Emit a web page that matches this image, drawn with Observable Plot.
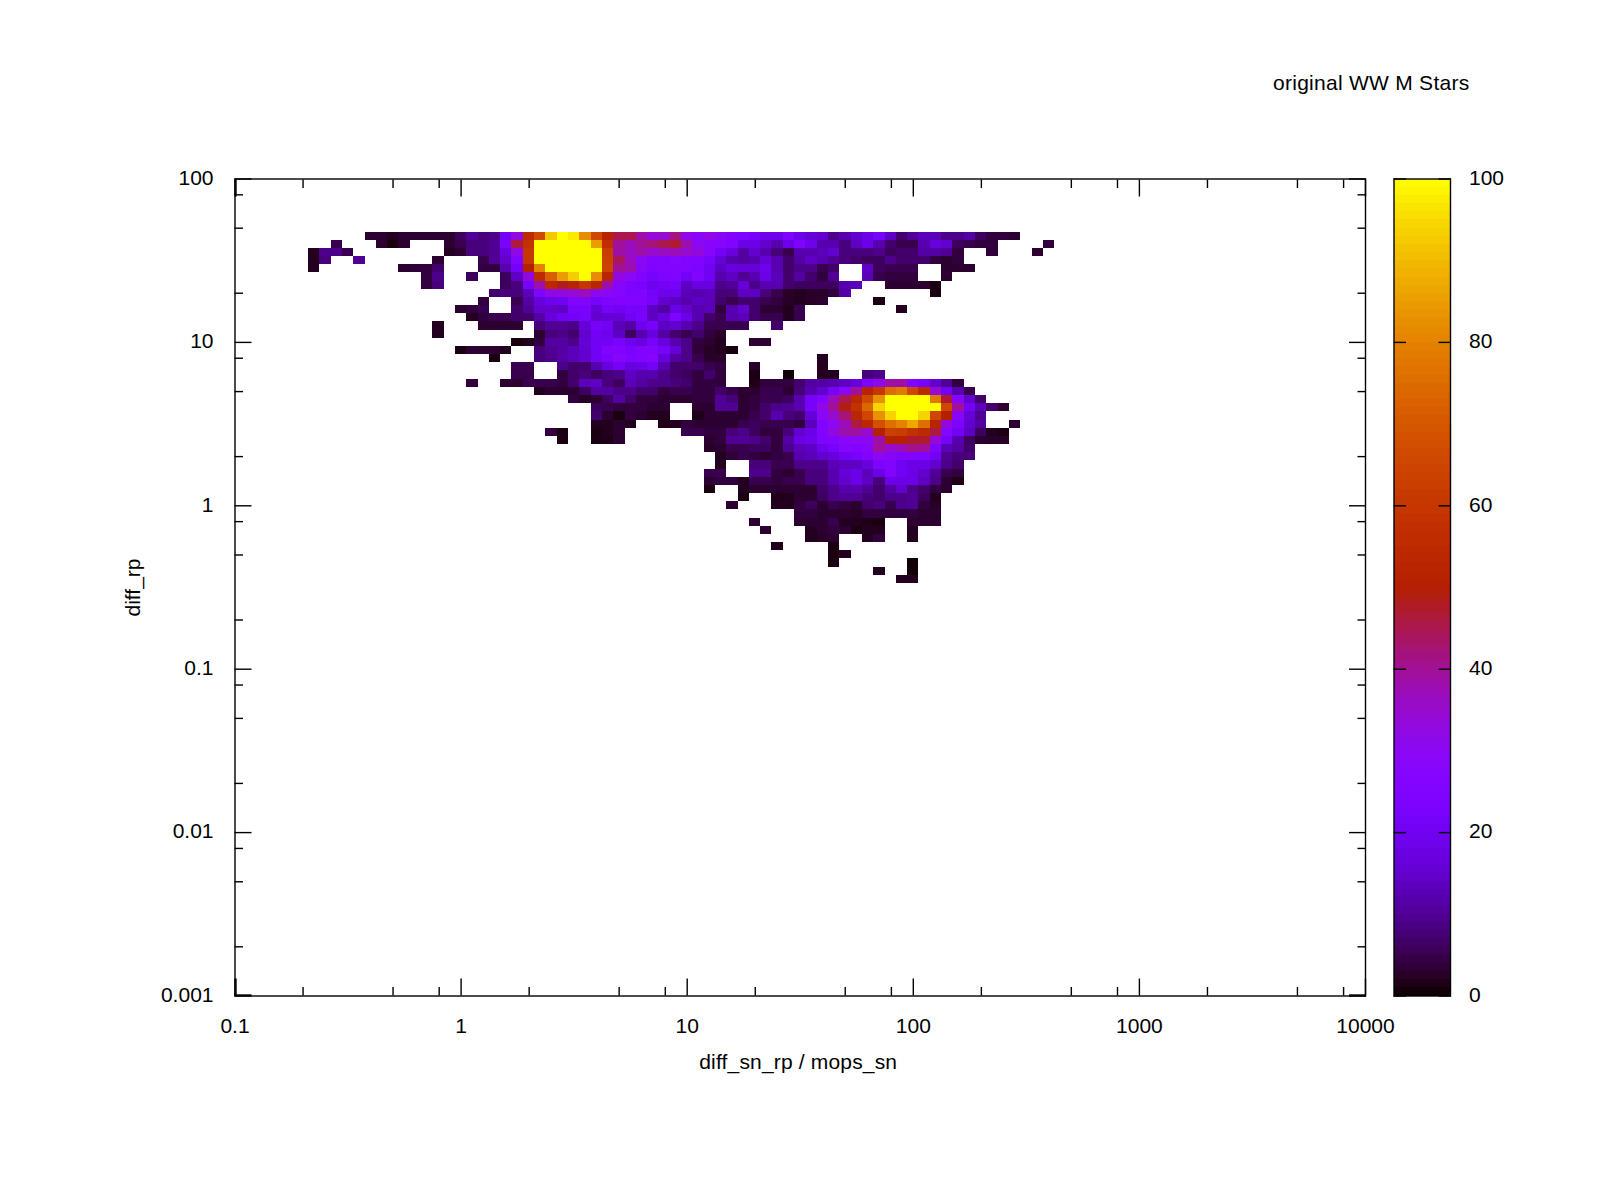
<!DOCTYPE html>
<html>
<head>
<meta charset="utf-8">
<script src="https://cdn.jsdelivr.net/npm/d3@7"></script>
<script src="https://cdn.jsdelivr.net/npm/@observablehq/plot@0.6"></script>
<style>
html,body{margin:0;padding:0;background:#fff;}
#wrap{position:relative;width:1600px;height:1200px;overflow:hidden;}
#wrap svg{position:absolute;left:0;top:0;background:transparent;}
</style>
</head>
<body>
<div id="wrap"></div>
<script>
const titleText = "original WW M Stars";
const xLabel = "diff_sn_rp / mops_sn";
const yLabel = "diff_rp";
const xMajor = [0.1, 1, 10, 100, 1000, 10000];
const xMinor = [0.2,0.5,0.8,2,5,8,20,50,80,200,500,800,2000,5000,8000];
const yMajor = [0.001, 0.01, 0.1, 1, 10, 100];
const yMinor = [0.002,0.005,0.008,0.02,0.05,0.08,0.2,0.5,0.8,2,5,8,20,50,80];
const cbMajor = [0, 20, 40, 60, 80, 100];
const cbLevels = d3.range(0, 100);
const binStep = 0.05;

// each row: one horizontal band of bins, top to bottom; segments are [first column, values...]
const row07 = [[12,3,3,2,3,3,3,3,3,6,10,8,9,21,33,55,66,92,100,97,82,66,52,45,45,39,34,35,42,32,29,32,29,26,24,22,19,19,24,19,16,15,9,12,15,18,22,14,7,10,13,13,9,9,11,6,4,4,3]];
const row08 = [[9,5],[13,3,1,3],[19,3,5,8,8,10,23,46,58,100,100,100,100,100,85,56,40,37,40,42,45,47,38,30,27,27,26,18,18,15,12,18,24,19,12,12,8,14,18,12,7,5,5,12,17,15,6,5,4,4],[72,4]];
const row09 = [[7,2,9,9,5],[19,2,3,8,8,10,17,32,60,100,100,100,100,100,100,62,39,36,38,35,36,37,35,33,28,21,17,11,15,12,8,5,12,12,13,15,8,8,8,9,6,7,7,11,11,10,4],[67,4],[71,3]];
const row10 = [[7,2,8],[11,10],[18,3],[22,5,10,15,26,60,100,100,100,100,100,100,63,44,36,30,26,26,27,26,25,22,16,12,11,12,16,12,7,11,14,12,10,8,7,6,6,9,7,7,7,4,3,4]];
const row11 = [[7,2],[15,3,3.5,4,7],[22,4,4,12,21,50,80,100,100,100,100,100,64,40,38,28,24,26,26,25,24,20,14,17,16,16,19,12,7,9,9,5,7],[56,14,6,5,5,5],[63,3,3,3]];
const row12 = [[17,4,9],[21,6],[24,6,14,33,55,72,85,93,100,82,53,33,30,26,22,24,25,21,25,20,12,14,10,12,18,13,7,11,7,4,10],[56,13,5,4,4,4],[63,3]];
const row13 = [[17,4,8],[24,6,8,22,38,54,48,52,60,53,38,27,24,23,19,21,22,14,17,17,9,10,16,9,12,12,7,6,6,6,6,12,13],[58,3,3,3,3,1]];
const row14 = [[23,7,8,8,13,24,32,33,34,37,31,29,27,24,26,21,19,19,13,12,13,8,8,14,14,8,5,2.5,2,2.5,2.5,4,11],[62,1]];
const row15 = [[22,4],[25,5,11,17,19,20,25,25,22,24,26,25,26,22,15,14,12,14,13,7,5,7,7,5,4,2.5,2,2.5,3],[57,1]];
const row16 = [[20,3,4,5],[25,7,10,15,15,14,23,23,16,22,20,22,22,14,11,18,15,12,13,4,12,15,7,3,3,2,5],[59,2]];
const row17 = [[21,2,4,5,5,7,7,11,17,20,21,22,15,16,16,20,23,14,17,24,18,12,7,5,12,13,7,5,5,2,5]];
const row18 = [[18,2],[22,3,3,3,3],[27,8,10,10,9,16,22,20,13,11,19,22,14,15,12,9,5,5,5,5],[48,7]];
const row19 = [[18,2],[27,3,8,9,7,15,21,19,14,6,12,17,11,7,5,7,4,2.5]];
const row20 = [[25,1,2,4,11,11,9,16,20,20,23,19,17,22,17,12,9,4,3,2],[46,3,3]];
const row21 = [[20,1,3,3,3,2],[27,8,10,11,13,15,20,25,26,23,26,26,22,16,9,3.5,2.5,2,1]];
const row22 = [[23,1],[27,8,9,11,13,15,20,23,27,24,26,27,17,11,9,5,2.5,2.5],[52,2]];
const row23 = [[25,5,5],[29,9,7,7,12,17,21,17,18,21,12,7,7,7,5,4],[46,2.5],[52,2]];
const row24 = [[25,5,5],[29,4,7,8,6,8,9,14,12,12,9,7,6,4,7,4],[46,1],[49,0.5],[52,2,2],[56,8,9]];
const row25 = [[21,4],[24,3,3,5,5,5,4,7,13,14,8,6,13,11,9,9,8,7,4,4,4],[46,1.5,4,4,4,7,11,11,12,14,17,24,32,39,39,26,22,15,10,4]];
const row26 = [[27,2,3,3,3,6,11,11,9,9,7,7,4,5,5,4,4,7,5,3,3,5,5,3,8,12,15,22,29,40,52,60,75,78,65,55,35,20,12,5]];
const row27 = [[30,4,2.5,3,6,11,7,4,4,3,3,3,4,4,10,8,3,4,5,5,6,12,22,26,37,45,54,66,83,100,100,100,100,78,47,27,15,7]];
const row28 = [[32,6,5,4,4,4,3,3],[41,3,3,10,10,3,4,7,9,10,12,22,32,40,49,58,74,94,100,100,100,100,100,65,40,21,13,7,3]];
const row29 = [[32,7,3,1,4,3,2,2],[41,1.5,3,3,3,3,5,7,12,8,7,16,29,35,42,53,65,83,94,100,100,94,65,50,28,16,10]];
const row30 = [[32,2,2,3,2],[38,1.5,2,4,3,3,3,3,5,6,5,5,5,4,13,25,30,37,46,54,68,76,80,87,76,52,33,24,15,11],[69,3]];
const row31 = [[28,4,1],[32,1,2,3],[40,5,5,4,4,8,9,6,3.5,4,8,15,18,25,33,38,39,35,50,63,62,58,55,46,27,21,14,6,2,1]];
const row32 = [[29,1],[32,1,1.5,3],[42,3,4,10,10,9,7,4,11,18,19,24,26,29,30,30,38,51,51,47,47,34,22,12,6,3,2.5,2.5]];
const row33 = [[42,2.5,3,5,5,6,6,4,10,13,14,19,22,27,26,27,40,35,37,41,40,24,13,11,7]];
const row34 = [[43,2,3.5,5,4,3,4,5,12,13,15,17,20,22,26,30,28,26,25,25,20,10,8,8]];
const row35 = [[43,2],[46,8,8,5,5,9,9,9,13,14,14,17,24,25,20,18,18,15,9,7]];
const row36 = [[42,5,5],[46,9,9,4,3,5,8,8,12,16,18,13,18,25,20,18,15,10,5,4]];
const row37 = [[42,3,4,4,2,5,5,4,5,5,8,8,12,15,18,14,8,18,18,18,14,9,3,1.5]];
const row38 = [[42,1],[45,2,3,3,3,3,3,3,7,9,12,12,10,7,11,15,9,7,4,3]];
const row39 = [[45,1],[48,1.5,2,3,3,6,9,10,10,8,7,9,9,10,6,2]];
const row40 = [[44,3],[48,2,2,4,6,3,5,4,3,7,8,5,9,10,4,2.5]];
const row41 = [[50,4,4,3,3,3,2.5,4,4,4,4,4,3,3]];
const row42 = [[46,3],[50,3,3,3,5,2,2,1.5,1],[60,3,3,3]];
const row43 = [[47,3],[51,2,3,4,3,1,2,2],[60,2]];
const row44 = [[51,2,2.5,3],[56,2,4],[60,2]];
const row45 = [[48,1.5],[53,1]];
const row46 = [[53,1,2]];
const row47 = [[53,1],[60,0.5]];
const row48 = [[57,2],[60,0.5]];
const row49 = [[59,2,2]];
const allRows = [row07,row08,row09,row10,row11,row12,row13,row14,row15,row16,row17,row18,row19,row20,row21,row22,row23,row24,row25,row26,row27,row28,row29,row30,row31,row32,row33,row34,row35,row36,row37,row38,row39,row40,row41,row42,row43,row44,row45,row46,row47,row48,row49];
const firstRow = 7;

const cells = [];
allRows.forEach((segs, r) => {
  const j = firstRow + r;
  for (const [start, ...vals] of segs) {
    vals.forEach((v, i) => {
      const k = start + i;
      cells.push({
        x1: Math.pow(10, -1 + (k - 0.5) * binStep),
        x2: Math.pow(10, -1 + (k + 0.5) * binStep),
        y1: Math.pow(10, 2 - (j + 0.5) * binStep),
        y2: Math.pow(10, 2 - (j - 0.5) * binStep),
        v
      });
    });
  }
});

// gnuplot rgbformulae 7,5,15
const palette = t => {
  const r = Math.sqrt(t), g = t * t * t, b = Math.max(0, Math.sin(2 * Math.PI * t));
  return d3.rgb(255 * r, 255 * g, 255 * b).formatRgb();
};
const colorScale = {type: "linear", domain: [0, 100], interpolate: palette};
const baseStyle = {fontFamily: "'Liberation Sans', Arial, sans-serif", fontSize: "21px", color: "black", background: "transparent"};
const fmt = d => String(d);
const LW = 1.4;

const main = Plot.plot({
  width: 1600, height: 1200,
  marginLeft: 234.5, marginRight: 235, marginTop: 178.5, marginBottom: 204.5,
  style: baseStyle,
  x: {type: "log", domain: [0.1, 10000]},
  y: {type: "log", domain: [0.001, 100]},
  color: colorScale,
  marks: [
    Plot.rect(cells, {x1: "x1", x2: "x2", y1: "y1", y2: "y2", fill: "v", shapeRendering: "crispEdges"}),
    Plot.frame({stroke: "black", strokeWidth: LW}),
    Plot.axisX(xMajor, {anchor: "bottom", tickSize: -17, strokeWidth: LW, fill: "none", label: null}),
    Plot.axisX(xMajor, {anchor: "top", tickSize: -17, strokeWidth: LW, fill: "none", label: null}),
    Plot.axisX(xMinor, {anchor: "bottom", tickSize: -8.5, strokeWidth: LW, fill: "none", label: null}),
    Plot.axisX(xMinor, {anchor: "top", tickSize: -8.5, strokeWidth: LW, fill: "none", label: null}),
    Plot.axisY(yMajor, {anchor: "left", tickSize: -17, strokeWidth: LW, fill: "none", label: null}),
    Plot.axisY(yMajor, {anchor: "right", tickSize: -17, strokeWidth: LW, fill: "none", label: null}),
    Plot.axisY(yMinor, {anchor: "left", tickSize: -8.5, strokeWidth: LW, fill: "none", label: null}),
    Plot.axisY(yMinor, {anchor: "right", tickSize: -8.5, strokeWidth: LW, fill: "none", label: null}),
    // the reference's corner ticks sit one pixel off the frame and read as thickened lines
    Plot.axisX([0.1], {anchor: "bottom", tickSize: -17, strokeWidth: LW, fill: "none", label: null, dx: 1}),
    Plot.axisX([0.1], {anchor: "top", tickSize: -17, strokeWidth: LW, fill: "none", label: null, dx: 1}),
    Plot.axisY([0.001], {anchor: "left", tickSize: -17, strokeWidth: LW, fill: "none", label: null, dy: -1}),
    Plot.axisY([0.001], {anchor: "right", tickSize: -17, strokeWidth: LW, fill: "none", label: null, dy: -1}),
    Plot.axisX(xMajor, {anchor: "bottom", tickSize: 0, tickPadding: 22, tickFormat: fmt, fill: "black", label: null}),
    Plot.axisY(yMajor, {anchor: "left", tickSize: 0, tickPadding: 21.5, tickFormat: fmt, fill: "black", label: yLabel, labelAnchor: "center", labelArrow: "none", labelOffset: 110, dy: -1}),
    Plot.text([xLabel], {text: d => d, frameAnchor: "bottom", dy: 73, dx: -2, fill: "black", fontSize: 21}),
    Plot.text([titleText], {text: d => d, frameAnchor: "top-right", dx: 104, dy: -104, textAnchor: "end", fill: "black", fontSize: 21})
  ]
});

const bar = Plot.plot({
  width: 1600, height: 1200,
  marginLeft: 1393.5, marginRight: 150, marginTop: 178.5, marginBottom: 204.5,
  style: baseStyle,
  x: {type: "linear", domain: [0, 1], axis: null},
  y: {type: "linear", domain: [0, 100]},
  color: colorScale,
  marks: [
    Plot.rect(cbLevels, {x1: 0, x2: 1, y1: d => d, y2: d => d + 1, fill: d => d + 0.5, shapeRendering: "crispEdges"}),
    Plot.frame({stroke: "black", strokeWidth: LW}),
    Plot.axisY(cbMajor, {anchor: "left", tickSize: -12.5, strokeWidth: LW, fill: "none", label: null}),
    Plot.axisY(cbMajor, {anchor: "right", tickSize: -12.5, strokeWidth: LW, fill: "none", label: null}),
    Plot.axisY(cbMajor, {anchor: "right", tickSize: 0, tickPadding: 18.5, tickFormat: fmt, fill: "black", label: null, dy: -1})
  ]
});

d3.select(main).selectAll("text").each(function () {
  if (this.textContent === titleText) this.style.letterSpacing = "0.27px";
  if (this.textContent === xLabel) this.style.letterSpacing = "0.17px";
});

const wrap = document.getElementById("wrap");
wrap.appendChild(main);
wrap.appendChild(bar);
</script>
</body>
</html>
